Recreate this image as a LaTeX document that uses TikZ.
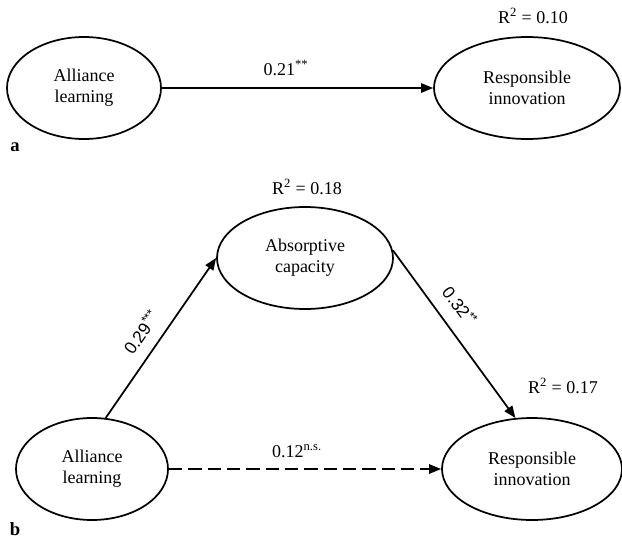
\documentclass[tikz,border=0pt]{standalone}
\usepackage{fontspec}
\setmainfont{Liberation Serif}
\newfontfamily\coefsans{Liberation Sans}
\usetikzlibrary{shapes,arrows.meta}

\begin{document}
\begin{tikzpicture}[x=0.75pt,y=-0.75pt,
    construct/.style={ellipse, draw, line width=1.3pt, inner sep=0pt,
        minimum height=76.5pt, align=center,
        font=\fontsize{13.5}{15.75}\selectfont},
    link/.style={line width=1.3pt, -{Triangle[length=9pt,width=7pt]}},
    rsq/.style={font=\fontsize{13.5}{16}\selectfont},
    coef/.style={font=\fontsize{13.5}{16}\selectfont},
    coefrot/.style={font=\coefsans\fontsize{13}{15}\selectfont, inner sep=1pt},
    panel/.style={font=\fontsize{14}{16}\selectfont\bfseries}]
    \useasboundingbox (0,0) rectangle (622,540);

    % Model a
    \node[construct, minimum width=115.5pt] (alA) at (84,88) {Alliance\\learning};
    \node[construct, minimum width=139.5pt] (riA) at (527,88) {Responsible\\innovation};
    \node[rsq] (rsqA) at (533,16) {R\textsuperscript{2} = 0.10};
    \draw[link] (alA) -- (riA);
    \node[coef] (cA) at (286,68) {0.21\textsuperscript{**}};
    \node[panel] (pa) at (15,147) {a};

    % Model b
    \node[construct, minimum width=132pt] (ac) at (305,258) {Absorptive\\capacity};
    \node[construct, minimum width=114pt] (alB) at (92,469) {Alliance\\learning};
    \node[construct, minimum width=135pt] (riB) at (532,469) {Responsible\\innovation};
    \node[rsq] (rsqC) at (307,187) {R\textsuperscript{2} = 0.18};
    \node[rsq] (rsqB) at (563,386) {R\textsuperscript{2} = 0.17};

    \draw[link] (alB.75) -- (ac.west);
    \draw[link] (ac.5) -- (riB.108);
    \draw[link, dash pattern=on 10pt off 4.5pt] (alB) -- (riB);

    \node[coefrot, rotate=55] (cAL) at (141,332) {0.29\textsuperscript{***}};
    \node[coefrot, rotate=-53] (cCR) at (460,306) {0.32\textsuperscript{**}};
    \node[coef] (cLR) at (297,451) {0.12\textsuperscript{n.s.}};
    \node[panel] (pb) at (15,529) {b};

\end{tikzpicture}
\end{document}
